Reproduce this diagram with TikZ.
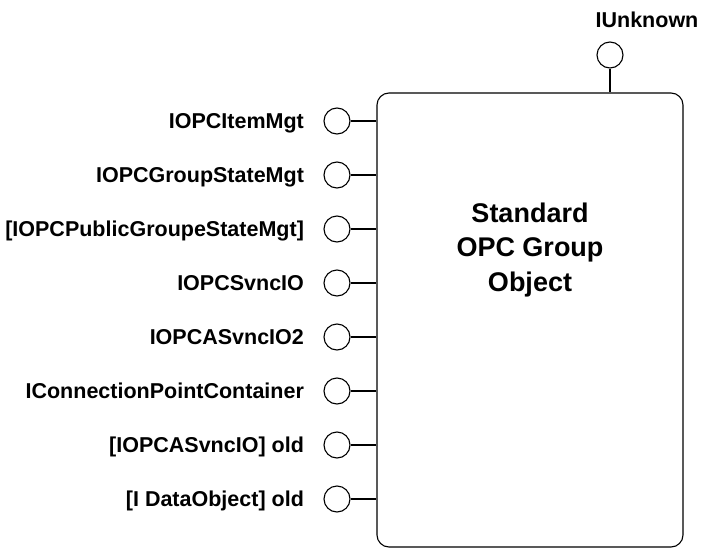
\documentclass[tikz,border=0pt]{standalone}
\usepackage{fontspec}
\setmainfont{Liberation Sans}
\usepackage{tikz}
\usetikzlibrary{positioning, calc}

\begin{document}
\begin{tikzpicture}[x=1pt, y=-1pt, line width=1.1pt, node distance=19pt]
        % Define block styles
        \tikzstyle{groupbox} = [rectangle, draw, minimum width=306pt, minimum height=454pt, rounded corners=12pt, inner sep=0pt]
        \tikzstyle{lollipop} = [circle, draw, minimum size=26pt, inner sep=0pt]
        \tikzstyle{iflabel} = [inner sep=0pt, text height=15pt, text depth=0pt, font=\fontsize{21.5}{25}\selectfont\bfseries]
        \tikzstyle{title} = [align=center, inner sep=0pt, font=\fontsize{27}{34.5}\selectfont\bfseries]

        \useasboundingbox (0,0) rectangle (702,549);

        % Place main nodes
        \node [groupbox] (group) at (530,320) {};
        \node [title] (name) at (530,250) {Standard\\OPC Group\\Object};

        % Place the interface circles
        \node [lollipop] (unknown) at (610,55) {};
        \node [lollipop] (itemmgt) at (337,121) {};
        \node [lollipop] (statemgt) at (337,175) {};
        \node [lollipop] (publicmgt) at (337,229) {};
        \node [lollipop] (syncio) at (337,283) {};
        \node [lollipop] (asyncio2) at (337,337) {};
        \node [lollipop] (cpcontainer) at (337,391) {};
        \node [lollipop] (asyncio) at (337,445) {};
        \node [lollipop] (dataobject) at (337,499) {};

        % Add the interface names
        \node [iflabel] (unknownlabel) at (647,20) {IUnknown};
        \node [iflabel, left=of itemmgt] (itemmgtlabel) {IOPCItemMgt};
        \node [iflabel, left=of statemgt] (statemgtlabel) {IOPCGroupStateMgt};
        \node [iflabel, left=of publicmgt] (publicmgtlabel) {[IOPCPublicGroupeStateMgt]};
        \node [iflabel, left=of syncio] (synciolabel) {IOPCSvncIO};
        \node [iflabel, left=of asyncio2] (asyncio2label) {IOPCASvncIO2};
        \node [iflabel, left=of cpcontainer] (cpcontainerlabel) {IConnectionPointContainer};
        \node [iflabel, left=of asyncio] (asynciolabel) {[IOPCASvncIO] old};
        \node [iflabel, left=of dataobject] (dataobjectlabel) {[I DataObject] old};

        % Draw connections to the object
        \draw (unknown) -- (unknown |- group.north);
        \draw (itemmgt) -- (itemmgt -| group.west);
        \draw (statemgt) -- (statemgt -| group.west);
        \draw (publicmgt) -- (publicmgt -| group.west);
        \draw (syncio) -- (syncio -| group.west);
        \draw (asyncio2) -- (asyncio2 -| group.west);
        \draw (cpcontainer) -- (cpcontainer -| group.west);
        \draw (asyncio) -- (asyncio -| group.west);
        \draw (dataobject) -- (dataobject -| group.west);

    \end{tikzpicture}
\end{document}
